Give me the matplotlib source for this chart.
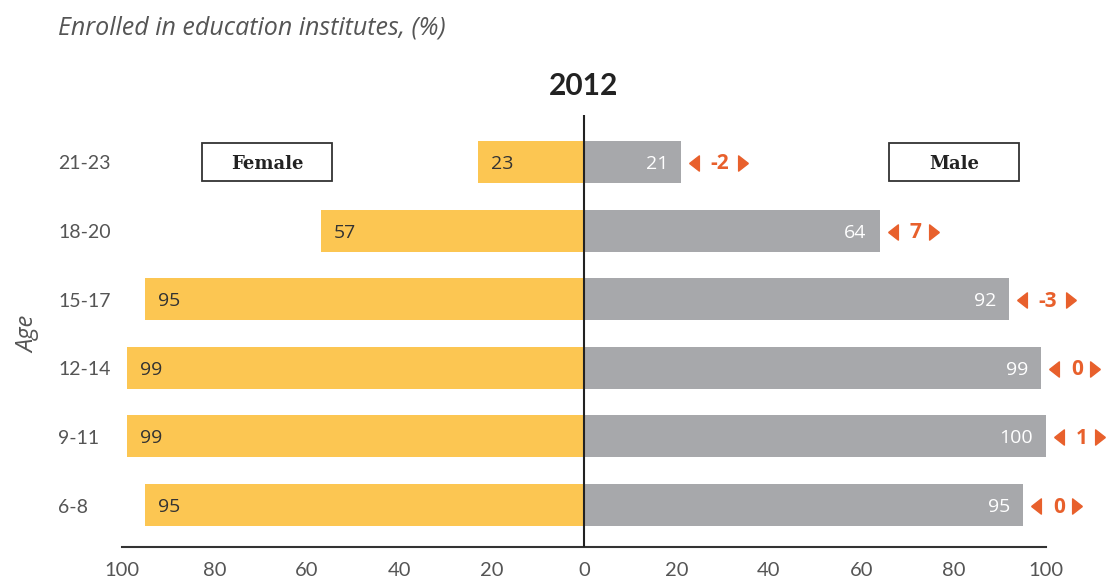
import matplotlib
matplotlib.use("Agg")
import matplotlib.pyplot as plt
from matplotlib.patches import Rectangle
from matplotlib.transforms import ScaledTranslation

# ---- data ----
age_groups = ["6-8", "9-11", "12-14", "15-17", "18-20", "21-23"]
female = [95, 99, 99, 95, 57, 23]
male = [95, 100, 99, 92, 64, 21]
diff = [0, 1, 0, -3, 7, -2]
xticks = [-100, -80, -60, -40, -20, 0, 20, 40, 60, 80, 100]
xtick_labels = ["100", "80", "60", "40", "20", "0", "20", "40", "60", "80", "100"]
title = "2012"
subtitle = "Enrolled in education institutes, (%)"

YELLOW = "#FCC652"
GRAY = "#A7A8AB"
ORANGE = "#E8602C"
TXT = "#555555"

W, H = 1106, 582
fig = plt.figure(figsize=(W / 100, H / 100), dpi=100)
left, right, top, bottom = 122, 1046, 115, 547
ax = fig.add_axes([left / W, (H - bottom) / H, (right - left) / W, (bottom - top) / H])

ypos = list(range(len(age_groups)))
ax.barh(ypos, [-v for v in female], height=0.61, color=YELLOW, zorder=2)
ax.barh(ypos, male, height=0.61, color=GRAY, zorder=2)
ax.set_xlim(-100, 100)
ax.set_ylim(-0.612, 5.685)

for sp in ["top", "right", "left"]:
    ax.spines[sp].set_visible(False)
ax.spines["bottom"].set_color("#333333")
ax.spines["bottom"].set_linewidth(1.5)
ax.axvline(0, color="#222222", lw=1.5, zorder=3)

ax.set_xticks(xticks)
ax.set_xticklabels(xtick_labels, fontfamily="Lato", fontsize=14.5, color=TXT)
ax.tick_params(axis="x", length=0, pad=11)
ax.set_yticks([])

dy = -2  # pixel shift for row labels
for i, g in enumerate(age_groups):
    ax.annotate(g, xy=(0, i), xycoords=("figure fraction", "data"),
                xytext=(58, dy), textcoords="offset pixels",
                ha="left", va="center", fontfamily="Lato", fontsize=14, color=TXT)

left_tri = [(-0.32, 0), (0.32, 0.5), (0.32, -0.5), (-0.32, 0)]
right_tri = [(0.32, 0), (-0.32, 0.5), (-0.32, -0.5), (0.32, 0)]


def px_offset(px, py):
    return ax.transData + ScaledTranslation(px / 100, py / 100, fig.dpi_scale_trans)


for i in ypos:
    ax.annotate(str(female[i]), xy=(-female[i], i), xytext=(13, dy), textcoords="offset pixels",
                ha="left", va="center", fontfamily="Open Sans", fontsize=14, color="#333333", zorder=4)
    ax.annotate(str(male[i]), xy=(male[i], i), xytext=(-13, dy), textcoords="offset pixels",
                ha="right", va="center", fontfamily="Open Sans", fontsize=14, color="white", zorder=4)
    d = str(diff[i])
    ax.plot([male[i]], [i], marker=left_tri, markersize=11, color=ORANGE, lw=0,
            transform=px_offset(13, -1), clip_on=False)
    cx = 36 if len(d) == 1 else 39
    ax.annotate(d, xy=(male[i], i), xytext=(cx, dy), textcoords="offset pixels",
                ha="center", va="center", fontfamily="Open Sans", fontweight="bold",
                fontsize=15, color=ORANGE)
    rx = 54 if len(d) == 1 else 62
    ax.plot([male[i]], [i], marker=right_tri, markersize=11, color=ORANGE, lw=0,
            transform=px_offset(rx, -1), clip_on=False)

# legend boxes
ytop = len(age_groups) - 1
bh = 0.54
for x0, x1, lab in [(-82.7, -54.5, "Female"), (66.0, 94.2, "Male")]:
    ax.add_patch(Rectangle((x0, ytop - bh / 2), x1 - x0, bh, facecolor="white",
                           edgecolor="#333333", lw=1.3, zorder=3))
    ax.annotate(lab, xy=((x0 + x1) / 2, ytop), xytext=(0, dy), textcoords="offset pixels",
                ha="center", va="center", fontfamily="DejaVu Serif",
                fontweight="bold", fontsize=13, color="#222222", zorder=4)

fig.text(584 / W, 1 - 86 / H, title, ha="center", va="center", fontfamily="Lato",
         fontweight="bold", fontsize=21.5, color="#222222")
fig.text(58 / W, 1 - 28 / H, subtitle, ha="left", va="center", fontfamily="Open Sans",
         style="italic", fontsize=18, color=TXT)
fig.text(28 / W, 1 - 334 / H, "Age", ha="center", va="center", rotation=90,
         fontfamily="Open Sans", style="italic", fontsize=17, color=TXT)

fig.savefig("out.png", dpi=100, facecolor="white")
